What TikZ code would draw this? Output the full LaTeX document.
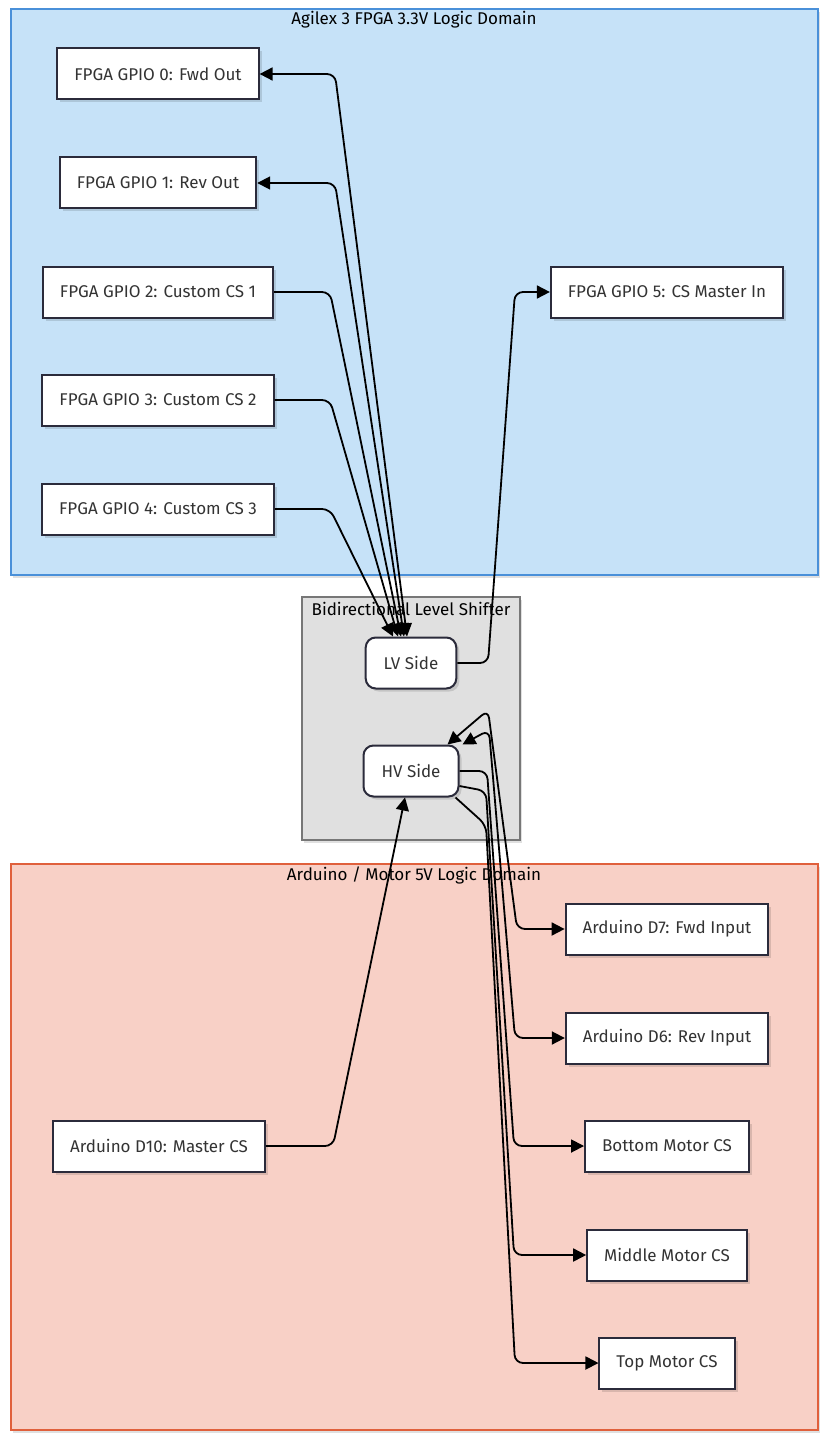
\documentclass[tikz,border=0pt]{standalone}
\usepackage{fontspec}
\setmainfont{Fira Sans}
\usetikzlibrary{arrows.meta,shadows}
\definecolor{fpgafill}{HTML}{C6E2F8}
\definecolor{fpgaline}{HTML}{4A90D9}
\definecolor{shiftfill}{HTML}{E0E0E0}
\definecolor{shiftline}{HTML}{777777}
\definecolor{ardfill}{HTML}{F8D0C6}
\definecolor{ardline}{HTML}{E0603C}
\definecolor{boxline}{HTML}{2B2B3B}
\begin{document}
\begin{tikzpicture}[x=1pt,y=-1pt,
    font=\fontsize{17}{20}\selectfont,
    logicarea/.style={line width=1.6pt,drop shadow={shadow xshift=2pt,shadow yshift=-3pt,opacity=0.12,fill=black}},
    box/.style={draw=boxline,fill=white,line width=2pt,text=black!80,minimum height=51,inner xsep=17,
      drop shadow={shadow xshift=3pt,shadow yshift=-3pt,opacity=0.12,fill=black}},
    side/.style={box,rounded corners=10,inner xsep=18},
    areatitle/.style={text=black},
    tip/.tip={Triangle[length=13pt,width=13pt]}]
  \useasboundingbox (0,0) rectangle (828,1439);
  \draw[logicarea,draw=fpgaline,fill=fpgafill] (11,9) rectangle (818,575);
  \draw[logicarea,draw=shiftline,fill=shiftfill] (302,597) rectangle (520,840);
  \draw[logicarea,draw=ardline,fill=ardfill] (11,864) rectangle (818,1430);
  \draw
    (414,20) node[areatitle] (fpgatitle) {Agilex 3 FPGA 3.3V Logic Domain}
    (411,609) node[areatitle] (shifttitle) {Bidirectional Level Shifter}
    (414,875) node[areatitle] (ardtitle) {Arduino / Motor 5V Logic Domain};
  \draw
    (158,74) node[box] (g0) {FPGA GPIO 0: Fwd Out}
    (158,183) node[box] (g1) {FPGA GPIO 1: Rev Out}
    (158,292) node[box] (g2) {FPGA GPIO 2: Custom CS 1}
    (158,400) node[box] (g3) {FPGA GPIO 3: Custom CS 2}
    (158,509) node[box] (g4) {FPGA GPIO 4: Custom CS 3}
    (667,292) node[box] (g5) {FPGA GPIO 5: CS Master In}
    (411,663) node[side] (lv) {LV Side}
    (411,771) node[side] (hv) {HV Side}
    (667,929) node[box] (d7) {Arduino D7: Fwd Input}
    (667,1038) node[box] (d6) {Arduino D6: Rev Input}
    (159,1146) node[box] (d10) {Arduino D10: Master CS}
    (667,1146) node[box] (mb) {Bottom Motor CS}
    (667,1255) node[box] (mm) {Middle Motor CS}
    (667,1363) node[box] (mt) {Top Motor CS};
  \begin{scope}[line width=1.8pt,rounded corners=8,-tip]
    \draw[tip-tip] (g0.east) -- (335,74) -- ([xshift=-4]lv.north);
    \draw[tip-tip] (g1.east) -- (335,183) -- ([xshift=-7]lv.north);
    \draw (g2.east) -- (330,292) -- ([xshift=-10]lv.north);
    \draw (g3.east) -- (330,400) -- ([xshift=-13]lv.north);
    \draw (g4.east) -- (330,509) -- ([xshift=-18]lv.north);
    \draw (lv.east) -- (488,663) -- (515,292) -- (g5.west);
    \draw[tip-tip] ([xshift=-12]hv.north east) -- (488,710) -- (517,929) -- (d7.west);
    \draw[tip-tip] ([xshift=3]hv.north east) -- (489,730) -- (515,1038) -- (d6.west);
    \draw (hv.east) -- (487,771) -- (514,1146) -- (mb.west);
    \draw ([yshift=-15]hv.east) -- (486,791) -- (514,1255) -- (mm.west);
    \draw ([xshift=-4]hv.south east) -- (486,825) -- (515,1363) -- (mt.west);
    \draw (d10.east) -- (333,1146) -- ([xshift=-6]hv.south);
  \end{scope}
\end{tikzpicture}
\end{document}
